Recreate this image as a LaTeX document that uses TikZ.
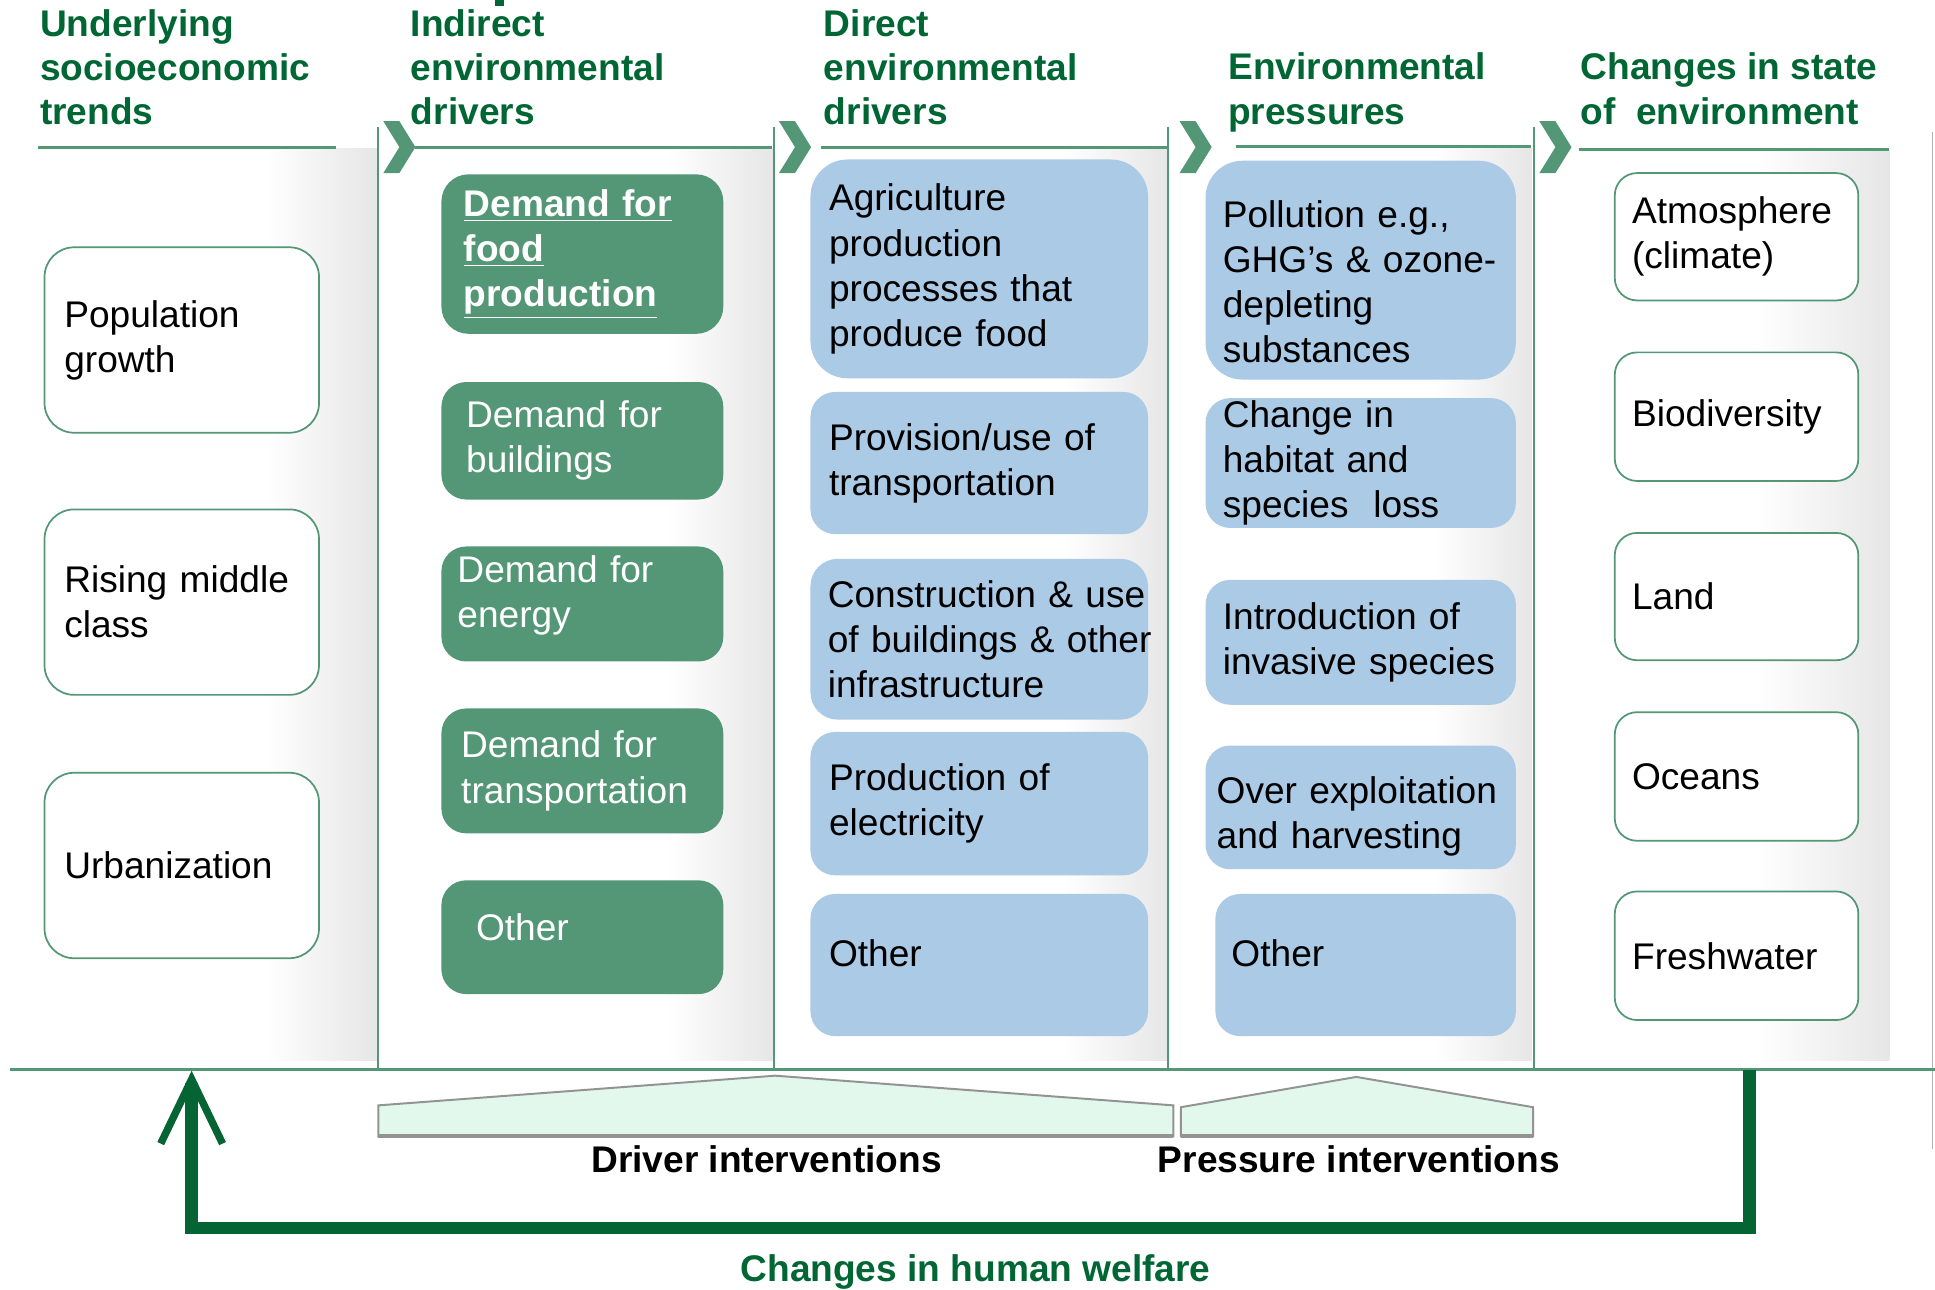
\documentclass[tikz,border=0pt]{standalone}
\usepackage{fontspec}
\setmainfont{Liberation Sans}
\usepackage{xcolor}
\usepackage{tikz}
\usetikzlibrary{arrows.meta}

\definecolor{darkgreen}{HTML}{006633}
\definecolor{arrowgreen}{HTML}{046434}
\definecolor{midgreen}{HTML}{539776}
\definecolor{paleblue}{HTML}{ABCAE6}
\definecolor{mint}{HTML}{E2F8EC}
\definecolor{panelgray}{HTML}{E6E6E6}

\begin{document}
\begin{tikzpicture}[x=0.5pt, y=-0.5pt,
  heading/.style={anchor=base west, align=left, inner sep=0pt, text=darkgreen, font=\fontsize{15}{17.8}\selectfont\bfseries},
  boxtext/.style={align=left, inner ysep=0pt, font=\fontsize{15}{18.2}\selectfont},
  whitebox/.style={boxtext, draw=midgreen, line width=0.7pt, fill=white, rounded corners=11pt, text=black},
  greenbox/.style={boxtext, fill=midgreen, rounded corners=10pt, text=white},
  bluebox/.style={boxtext, fill=paleblue, rounded corners=10pt, text=black},
  colline/.style={midgreen, line width=0.8pt},
  headrule/.style={midgreen, line width=1.3pt},
  chevron/.style={fill=midgreen},
  panel/.style={left color=white, right color=panelgray},
  intervention/.style={fill=mint, draw=gray!85, line width=0.8pt, line join=miter},
  intertext/.style={anchor=base, inner sep=0pt, font=\fontsize{15}{18}\selectfont\bfseries},
  feedback/.style={arrowgreen, line width=5pt, -{Straight Barb[length=26pt, width=25pt, line width=3pt]}}
]
  \useasboundingbox (0,0) rectangle (1565,1043);

  % grey panels at the right side of each column
  \shade[panel] (215,120) rectangle (305,858);
  \shade[panel] (540,120) rectangle (626,858);
  \shade[panel] (860,120) rectangle (945,858);
  \shade[panel] (1160,120) rectangle (1239,858);
  \shade[panel] (1420,122) rectangle (1528,858);

  % column separators
  \foreach \lx in {306,626,945,1241}
    \draw[colline] (\lx,103) -- (\lx,865);
  \draw[gray!60, line width=0.5pt] (1563,107) -- (1563,929);
  \fill[darkgreen] (400,0) rectangle (408,5);

  % chevrons
  \foreach \cx in {310,630,954,1245}
    \fill[chevron] (\cx,98) -- ++(13,0) -- ++(13,21) -- ++(-13,21) -- ++(-13,0) -- ++(13,-21) -- cycle;

  % headings (anchored at the baseline of the last line)
  \node[heading] (hdtrends) at (32,101) {Underlying\\socioeconomic\\trends};
  \node[heading] (hdindirect) at (332,101) {Indirect\\environmental\\drivers};
  \node[heading] (hddirect) at (666,101) {Direct\\environmental\\drivers};
  \node[heading] (hdpressures) at (993,100.3) {Environmental\\pressures};
  \node[heading] (hdstate) at (1278,100.3) {Changes in state\\of\ \ environment};
  \draw[headrule] (31,119) -- (272,119);
  \draw[headrule] (336,119) -- (624,119);
  \draw[headrule] (664,119.5) -- (944,119.5);
  \draw[headrule] (1000,118.6) -- (1238,118.6);
  \draw[headrule] (1277,121) -- (1528,121);

  % underlying trends
  \node[whitebox, inner xsep=8pt, text width=95pt, minimum height=75pt, rounded corners=12pt] (popgrowth) at (147,275) {Population\\growth};
  \node[whitebox, inner xsep=8pt, text width=95pt, minimum height=75pt, rounded corners=12pt] (middleclass) at (147,487) {Rising middle\\class};
  \node[whitebox, inner xsep=8pt, text width=95pt, minimum height=75pt, rounded corners=12pt] (urban) at (147,700) {Urbanization};

  % indirect drivers
  \node[greenbox, inner xsep=9pt, text width=96pt, minimum height=64.5pt, rounded corners=11pt, font=\fontsize{15}{18.2}\selectfont\bfseries] (demfood) at (471,205.5) {\underline{Demand for}\\\underline{food}\\\underline{production}};
  \node[greenbox, inner xsep=10pt, text width=94pt, minimum height=47.5pt] (dembuild) at (471,356.5) {Demand for\\buildings};
  \node[greenbox, inner xsep=6.5pt, text width=101pt, minimum height=46.5pt] (demenergy) at (471,488.5) {Demand for\\energy\rule[-10pt]{0pt}{10pt}};
  \node[greenbox, inner xsep=8pt, text width=98pt, minimum height=50.5pt] (demtrans) at (471,623.5) {Demand for\\transportation};
  \node[greenbox, inner xsep=14pt, text width=86pt, minimum height=46pt] (demother) at (471,758) {Other\rule[-8pt]{0pt}{8pt}};

  % direct drivers
  \node[bluebox, inner xsep=7.5pt, text width=121.5pt, minimum height=88.5pt, rounded corners=15pt] (agri) at (792,217.5) {Agriculture\\production\\processes that\\produce food};
  \node[bluebox, inner xsep=7.5pt, text width=121.5pt, minimum height=57.5pt] (transport) at (792,374.5) {Provision/use of\\transportation};
  \node[bluebox, inner xsep=7pt, text width=122.5pt, minimum height=65pt, rounded corners=11pt] (construct) at (792,517) {\mbox{Construction \& use}\\\mbox{of buildings \& other}\\infrastructure};
  \node[bluebox, inner xsep=7.5pt, text width=121.5pt, minimum height=58pt] (electric) at (792,650) {Production of\\electricity};
  \node[bluebox, inner xsep=7.5pt, text width=121.5pt, minimum height=57.5pt] (dirother) at (792,780.5) {Other\rule[-10pt]{0pt}{10pt}};

  % pressures
  \node[bluebox, inner xsep=7pt, text width=111.5pt, minimum height=88.5pt, rounded corners=15pt] (pollution) at (1100.5,218.5) {\rule{0pt}{20pt}Pollution e.g.,\\\mbox{GHG’s \& ozone-}\\depleting\\substances};
  \node[bluebox, inner xsep=7pt, text width=111.5pt, minimum height=52.5pt] (habitat) at (1100.5,374.5) {Change in\\habitat and\\species\ \ loss};
  \node[bluebox, inner xsep=7pt, text width=111.5pt, minimum height=50.5pt] (invasive) at (1100.5,519.5) {Introduction of\\\mbox{invasive species}};
  \node[bluebox, inner xsep=4.5pt, text width=116.5pt, minimum height=50pt] (harvest) at (1100.5,653) {\rule{0pt}{18pt}\mbox{Over exploitation}\\and harvesting};
  \node[bluebox, inner xsep=6.5pt, text width=108.5pt, minimum height=57.5pt] (presother) at (1104.5,780.5) {Other\rule[-10pt]{0pt}{10pt}};

  % state of environment
  \node[whitebox, inner xsep=7pt, text width=84.5pt, minimum height=51.5pt, rounded corners=9pt] (atmos) at (1404.5,191.5) {Atmosphere\\(climate)};
  \node[whitebox, inner xsep=7pt, text width=84.5pt, minimum height=52pt, rounded corners=9pt] (biodiv) at (1404.5,337) {Biodiversity};
  \node[whitebox, inner xsep=7pt, text width=84.5pt, minimum height=51.5pt, rounded corners=9pt] (land) at (1404.5,482.5) {Land};
  \node[whitebox, inner xsep=7pt, text width=84.5pt, minimum height=52pt, rounded corners=9pt] (oceans) at (1404.5,628) {Oceans};
  \node[whitebox, inner xsep=7pt, text width=84.5pt, minimum height=52pt, rounded corners=9pt] (freshw) at (1404.5,773) {Freshwater};

  % base line and interventions
  \draw[midgreen, line width=1.4pt] (8,865) -- (1565,865);
  \filldraw[intervention] (306,919) -- (306,894) -- (627,870) -- (949,894) -- (949,919) -- cycle;
  \filldraw[intervention] (955,919) -- (955,895.5) -- (1097,871) -- (1240,895.5) -- (1240,919) -- cycle;
  \draw[gray!85, line width=1.5pt] (306,919) -- (949,919);
  \draw[gray!85, line width=1.5pt] (955,919) -- (1240,919);
  \node[intertext] (drivint) at (620,948) {Driver interventions};
  \node[intertext] (presint) at (1099,948) {Pressure interventions};

  % feedback to human welfare
  \coordinate (fbstart) at (1415,865);
  \coordinate (fbend) at (155,866);
  \draw[feedback] (fbstart) -- ++(0,128) -| (fbend);
  \node[intertext, text=darkgreen] (welfare) at (789,1036.6) {Changes in human welfare};
\end{tikzpicture}
\end{document}
